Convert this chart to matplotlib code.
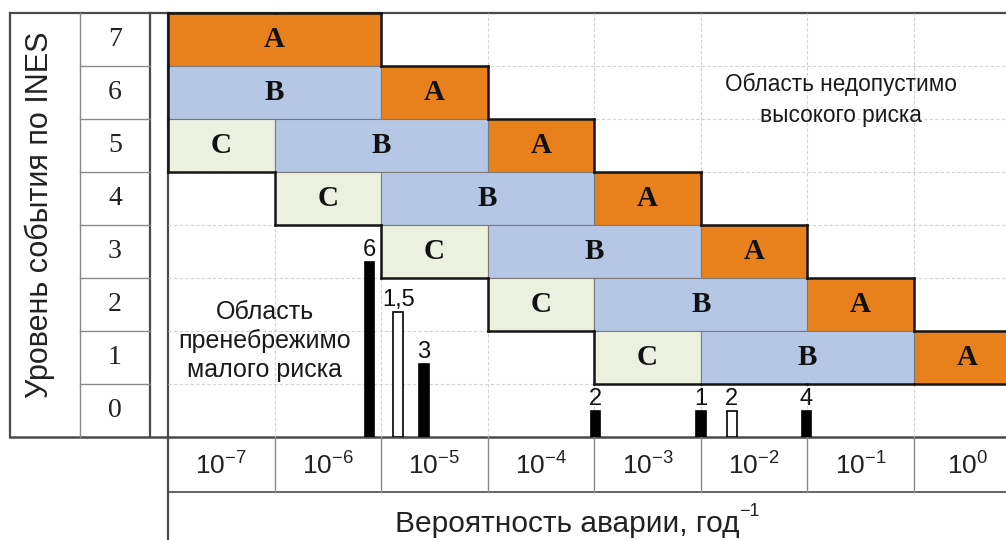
import matplotlib
matplotlib.use("Agg")
import matplotlib.pyplot as plt
from matplotlib import font_manager
from matplotlib.patches import Rectangle
from matplotlib.transforms import blended_transform_factory

# ---- data -------------------------------------------------------------
# INES levels that carry a rating zone, and the zone extents along the
# frequency axis, given as decade exponents (log10 of events per year)
levels = [7, 6, 5, 4, 3, 2, 1]
zone_a_from = [-7, -5, -4, -3, -2, -1, 0]
zone_a_to = [-6, -5, -4, -3, -2, -1, 0]
zone_b_from = [None, -7, -6, -5, -4, -3, -2]
zone_b_to = [None, -6, -5, -4, -3, -2, -1]
zone_c_at = [None, None, -7, -6, -5, -4, -3]

decades = [-7, -6, -5, -4, -3, -2, -1, 0]
level_rows = [0, 1, 2, 3, 4, 5, 6, 7]

# observed events: label, log10 frequency, bar height (in level rows)
event_labels = ["6", "1,5", "3", "2", "1", "2", "4"]
event_log_freq = [-5.61, -5.34, -5.10, -3.49, -2.50, -2.21, -1.51]
event_height = [3.30, 2.36, 1.38, 0.49, 0.49, 0.49, 0.49]
event_hollow = [False, True, False, False, False, True, False]

zone_colors = {"A": "#E8801C", "B": "#B6C7E5", "C": "#EBF1DE"}

# ---- fonts ------------------------------------------------------------
installed = {f.name for f in font_manager.fontManager.ttflist}
SANS = "Liberation Sans"
NARROW = "Liberation Sans Narrow" if "Liberation Sans Narrow" in installed else SANS
SERIF = "Liberation Serif"
plt.rcParams["font.family"] = [SANS, "DejaVu Sans"]
plt.rcParams["mathtext.fontset"] = "custom"
plt.rcParams["mathtext.rm"] = NARROW
plt.rcParams["mathtext.it"] = NARROW
plt.rcParams["mathtext.bf"] = NARROW

W, H = 1006, 540
fig = plt.figure(figsize=(W / 100, H / 100), dpi=100)
fig.patch.set_facecolor("white")

# frame axes in pixel units for the table ruling
frame = fig.add_axes([0, 0, 1, 1], zorder=0)
frame.set_xlim(0, W)
frame.set_ylim(H, 0)
frame.axis("off")

# plot area: one column per decade, one row per level
left_px, top_px, bottom_px = 168, 13, 437
col_px = 106.57
ax = fig.add_axes([left_px / W, (H - bottom_px) / H, (W - left_px) / W,
                   (bottom_px - top_px) / H], zorder=1)
ax.set_xlim(-7.5, -7.5 + (W - left_px) / col_px)
ax.set_ylim(-0.5, 7.5)
ax.axis("off")
ax.patch.set_alpha(0)

frame_dark = "#4a4a4a"
frame_light = "#8a8a8a"

# outer table ruling
frame.plot([10, W], [top_px, top_px], color=frame_dark, lw=1.6)
frame.plot([10, W], [bottom_px, bottom_px], color=frame_dark, lw=1.8)
frame.plot([10, 10], [top_px, bottom_px], color=frame_dark, lw=1.6)
frame.plot([150, 150], [top_px, bottom_px], color=frame_dark, lw=1.6)
frame.plot([80, 80], [top_px, bottom_px], color=frame_light, lw=1.0)
frame.plot([left_px, left_px], [top_px, H], color=frame_dark, lw=1.6)
frame.plot([left_px, W], [492, 492], color=frame_dark, lw=1.2)

# row separators in the level column
row_tr = blended_transform_factory(frame.transData, ax.transData)
for b in [r + 0.5 for r in level_rows[:-1]]:
    ax.plot([80, 150], [b, b], color=frame_light, lw=1.0, transform=row_tr,
            clip_on=False)
for lv in level_rows:
    ax.text(115, lv, str(lv), transform=row_tr, ha="center", va="center",
            fontsize=20, family=SERIF, color="#222222")

# decade column separators and labels below the plot
col_tr = blended_transform_factory(ax.transData, frame.transData)
for d in decades[:-1]:
    ax.plot([d + 0.5, d + 0.5], [bottom_px, 492], color=frame_light, lw=1.0,
            transform=col_tr, clip_on=False)
for d in decades:
    ax.text(d, 466, r"$10^{%d}$" % d, transform=col_tr, ha="center",
            va="center", fontsize=19, color="#222222")

# faint dashed grid behind the zones
for d in decades[:-1]:
    ax.plot([d + 0.5, d + 0.5], [-0.5, 7.5], color="#d2d2d2", lw=0.8,
            ls=(0, (3, 2)), zorder=0)
for r in level_rows[:-1]:
    ax.plot([-7.5, 1], [r + 0.5, r + 0.5], color="#d2d2d2", lw=0.8,
            ls=(0, (3, 2)), zorder=0)

# rating zones
segments = []
for i, lv in enumerate(levels):
    if zone_c_at[i] is not None:
        segments.append((lv, zone_c_at[i], zone_c_at[i], "C"))
    if zone_b_from[i] is not None:
        segments.append((lv, zone_b_from[i], zone_b_to[i], "B"))
    segments.append((lv, zone_a_from[i], zone_a_to[i], "A"))

occupied = set()
for lv, c0, c1, kind in segments:
    ax.add_patch(Rectangle((c0 - 0.5, lv - 0.5), c1 - c0 + 1, 1,
                           facecolor=zone_colors[kind], edgecolor="#7a7a7a",
                           lw=0.8, zorder=2))
    ax.text((c0 + c1) / 2, lv, kind, ha="center", va="center", fontsize=21,
            fontweight="bold", family=SERIF, color="#111111", zorder=4)
    for c in range(c0, c1 + 1):
        occupied.add((c, lv))

# heavy outline around the zoned region
for c, lv in occupied:
    edges = [((c - 0.5, c + 0.5), (lv + 0.5, lv + 0.5), (c, lv + 1)),
             ((c - 0.5, c + 0.5), (lv - 0.5, lv - 0.5), (c, lv - 1)),
             ((c - 0.5, c - 0.5), (lv - 0.5, lv + 0.5), (c - 1, lv)),
             ((c + 0.5, c + 0.5), (lv - 0.5, lv + 0.5), (c + 1, lv))]
    for xs, ys, nb in edges:
        if nb not in occupied:
            ax.plot(xs, ys, color="#151515", lw=1.8, zorder=3,
                    solid_capstyle="projecting", clip_on=False)

# observed events
for x, h, lab, hollow in zip(event_log_freq, event_height, event_labels,
                             event_hollow):
    ax.bar(x, h, width=0.09, bottom=-0.5, align="center",
           facecolor="white" if hollow else "black", edgecolor="black",
           lw=1.2, zorder=5)
    ax.text(x, -0.5 + h + 0.02, lab, ha="center", va="bottom", fontsize=17,
            color="#111111", zorder=6)

# region captions
ax.text(-1.19, 5.86, "Область недопустимо\nвысокого риска", ha="center",
        va="center", fontsize=16.3, color="#1a1a1a", linespacing=1.45, zorder=6)
ax.text(-6.59, 1.31, "Область\nпренебрежимо\nмалого риска", ha="center",
        va="center", fontsize=18, color="#1a1a1a", linespacing=1.25, zorder=6)

# axis titles
frame.text(40, 215, "Уровень события по INES", rotation=90, ha="center",
           va="center", fontsize=22, color="#222222")
xlab = frame.text(567, 524, "Вероятность аварии, год", ha="center",
                  va="center", fontsize=21.5, family=NARROW, color="#222222")
frame.annotate("\u22121", xy=(1, 1), xycoords=xlab, xytext=(0, -7),
               textcoords="offset points", ha="left", va="bottom",
               fontsize=13, family=NARROW, color="#222222")

fig.savefig("out.png", dpi=100, facecolor="white")
